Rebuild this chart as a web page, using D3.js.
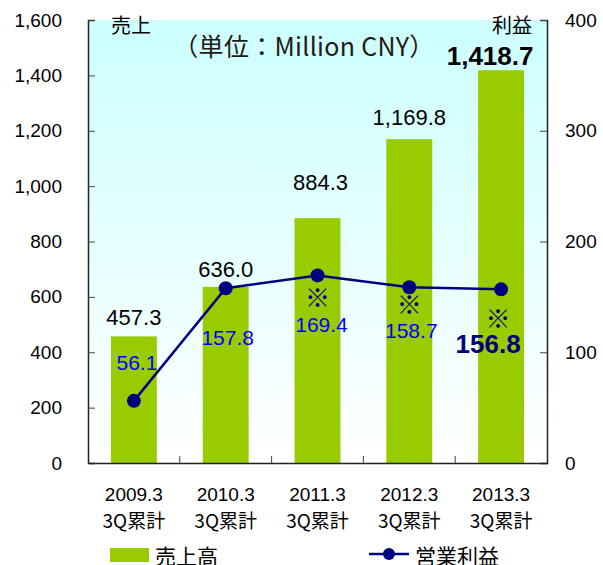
<!DOCTYPE html>
<html>
<head>
<meta charset="utf-8">
<script src="https://cdn.jsdelivr.net/npm/d3@7"></script>
<style>
body { margin: 0; background: #fff; }
text { font-family: "Liberation Sans", "Noto Sans CJK JP", sans-serif; }
.jp { font-family: "Noto Sans CJK JP", sans-serif; }
</style>
</head>
<body>
<svg id="chart" width="603" height="565"></svg>
<script>
// data
var years = ["2009.3", "2010.3", "2011.3", "2012.3", "2013.3"];
var sales = [457.3, 636.0, 884.3, 1169.8, 1418.7];
var profit = [56.1, 157.8, 169.4, 158.7, 156.8];
var salesTicks = [0, 200, 400, 600, 800, 1000, 1200, 1400, 1600];
var profitTicks = [0, 100, 200, 300, 400];
var noteMark = [false, false, true, true, true];   // ※ marks

function draw() {
    var svg = d3.select("#chart");
    var pl = 88, pr = 547, pt = 20, pb = 463;

    var x = d3.scaleBand().domain(years).range([pl, pr]).paddingInner(0.5).paddingOuter(0.25);
    var xb = d3.scaleBand().domain(years).range([pl, pr]);
    var yL = d3.scaleLinear().domain([0, 1600]).range([pb, pt]);
    var yR = d3.scaleLinear().domain([0, 400]).range([pb, pt]);

    // background gradient
    var grad = svg.append("defs").append("linearGradient")
        .attr("id", "bg").attr("x1", 0).attr("y1", 0).attr("x2", 0).attr("y2", 1);
    grad.append("stop").attr("offset", "0%").attr("stop-color", "#ccffff");
    grad.append("stop").attr("offset", "100%").attr("stop-color", "#ffffff");
    svg.append("rect").attr("x", pl).attr("y", pt)
        .attr("width", pr - pl).attr("height", pb - pt)
        .attr("fill", "url(#bg)");

    // bars
    svg.selectAll(".bar").data(sales).enter().append("rect")
        .attr("x", function(d, i) { return x(years[i]); })
        .attr("y", function(d) { return yL(d); })
        .attr("width", x.bandwidth())
        .attr("height", function(d) { return pb - yL(d); })
        .attr("fill", "#99cc00");

    // axes
    var axL = svg.append("g").attr("transform", "translate(" + pl + ",0)")
        .call(d3.axisLeft(yL).tickValues(salesTicks).tickSize(-7).tickPadding(26).tickFormat(d3.format(",")));
    var axR = svg.append("g").attr("transform", "translate(" + pr + ",0)")
        .call(d3.axisRight(yR).tickValues(profitTicks).tickSize(-7).tickPadding(18));
    svg.append("g").attr("transform", "translate(0," + pb + ")")
        .call(d3.axisBottom(xb).tickValues([]).tickSizeOuter(0));
    svg.selectAll(".domain").attr("stroke", "#222").attr("stroke-width", 1.5);
    svg.selectAll(".tick line").attr("stroke", "#444");
    [axL, axR].forEach(function(a) {
        a.selectAll("text").attr("font-size", 19).attr("fill", "#000")
            .style("font-family", "'Liberation Sans', sans-serif");
    });
    // category separators on x axis
    svg.selectAll(".xtick").data(years.slice(1)).enter().append("line")
        .attr("x1", function(d) { return xb(d); }).attr("x2", function(d) { return xb(d); })
        .attr("y1", pb).attr("y2", pb - 7).attr("stroke", "#444");

    var cx = function(d, i) { return xb(years[i]) + xb.bandwidth() / 2; };

    // x labels
    var xl = svg.selectAll(".xl").data(years).enter().append("text")
        .attr("text-anchor", "middle").attr("font-size", 19).attr("fill", "#000");
    xl.append("tspan").attr("x", cx).attr("y", 501).text(function(d) { return d; });
    xl.append("tspan").attr("class", "jp").attr("x", cx).attr("y", 528).attr("font-size", 19).text("3Q累計");

    // line
    svg.append("path").datum(profit)
        .attr("fill", "none").attr("stroke", "#000080").attr("stroke-width", 2.5)
        .attr("d", d3.line().x(cx).y(function(d) { return yR(d); }));
    svg.selectAll(".pt").data(profit).enter().append("circle")
        .attr("cx", cx).attr("cy", function(d) { return yR(d); })
        .attr("r", 7).attr("fill", "#000080");

    // sales labels
    var salesDy = [-11, -10, -28, -14, -5];
    var salesDx = [0, 0, 3, 0, -11];
    svg.selectAll(".sl").data(sales).enter().append("text")
        .attr("text-anchor", "middle")
        .attr("x", function(d, i) { return cx(d, i) + salesDx[i]; })
        .attr("y", function(d, i) { return yL(d) + salesDy[i]; })
        .attr("font-size", function(d, i) { return i == 4 ? 26 : 22; })
        .attr("font-weight", function(d, i) { return i == 4 ? "bold" : "normal"; })
        .attr("fill", "#000")
        .text(function(d) { return d3.format(",.1f")(d); });

    // profit labels
    var profitY = [370, 345, 332, 338, 353];
    var profitDx = [3, 2, 4, 2, -13];
    svg.selectAll(".pl").data(profit).enter().append("text")
        .attr("text-anchor", "middle")
        .attr("x", function(d, i) { return cx(d, i) + profitDx[i]; })
        .attr("y", function(d, i) { return profitY[i]; })
        .attr("font-size", function(d, i) { return i == 4 ? 26 : 21; })
        .attr("font-weight", function(d, i) { return i == 4 ? "bold" : "normal"; })
        .attr("fill", function(d, i) { return i == 4 ? "#000080" : "#0000ff"; })
        .text(function(d) { return d.toFixed(1); });

    var markY = [0, 0, 307, 314, 328];
    noteMark.forEach(function(m, i) {
        if (!m) return;
        svg.append("text").attr("class", "jp").attr("text-anchor", "middle")
            .attr("x", cx(0, i) - (i == 4 ? 3 : 0)).attr("y", markY[i])
            .attr("font-size", 25).attr("fill", "#000080").text("※");
    });

    // titles
    svg.append("text").attr("class", "jp").attr("x", 111).attr("y", 33)
        .attr("font-size", 20).attr("fill", "#000").text("売上");
    svg.append("text").attr("class", "jp").attr("x", 532).attr("y", 33).attr("text-anchor", "end")
        .attr("font-size", 20).attr("fill", "#000").text("利益");
    svg.append("text").attr("class", "jp").attr("x", 304).attr("y", 56).attr("text-anchor", "middle")
        .attr("font-size", 25).attr("letter-spacing", 0.3).attr("fill", "#231815").text("（単位：Million CNY）");

    // legend
    svg.append("rect").attr("x", 110).attr("y", 548).attr("width", 39).attr("height", 14).attr("fill", "#99cc00");
    svg.append("text").attr("class", "jp").attr("x", 155).attr("y", 564).attr("font-size", 21).attr("fill", "#000").text("売上高");
    svg.append("line").attr("x1", 369).attr("x2", 409).attr("y1", 554).attr("y2", 554)
        .attr("stroke", "#000080").attr("stroke-width", 2.5);
    svg.append("circle").attr("cx", 389).attr("cy", 554).attr("r", 6).attr("fill", "#000080");
    svg.append("text").attr("class", "jp").attr("x", 415).attr("y", 564).attr("font-size", 21).attr("fill", "#000").text("営業利益");
}

draw();
</script>
</body>
</html>
